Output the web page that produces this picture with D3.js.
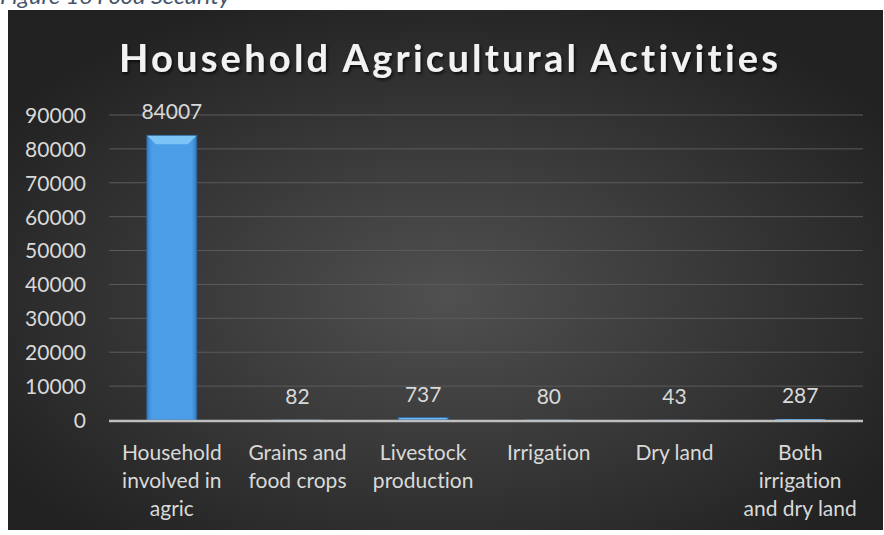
<!DOCTYPE html>
<html>
<head>
<meta charset="utf-8">
<script src="https://cdn.jsdelivr.net/npm/d3@7"></script>
<style>
  html, body { margin: 0; padding: 0; background: #ffffff; }
  svg { display: block; }
  text { font-variant-ligatures: none; font-feature-settings: "liga" 0, "clig" 0; }
</style>
</head>
<body>
<svg id="chart" width="884" height="535"></svg>
<script>
const captionText = "Figure 16 Food Security";
const titleText = "Household Agricultural Activities";
const categories = [
  ["Household", "involved in", "agric"],
  ["Grains and", "food crops"],
  ["Livestock", "production"],
  ["Irrigation"],
  ["Dry land"],
  ["Both", "irrigation", "and dry land"]
];
const values = [84007, 82, 737, 80, 43, 287];
const yTicks = [0, 10000, 20000, 30000, 40000, 50000, 60000, 70000, 80000, 90000];

const svg = d3.select("#chart");
const font = "Lato, 'Open Sans', sans-serif";

const defs = svg.append("defs");
const bg = defs.append("radialGradient").attr("id", "bg")
  .attr("cx", "50%").attr("cy", "55%").attr("r", "62%");
bg.append("stop").attr("offset", "0%").attr("stop-color", "#505050");
bg.append("stop").attr("offset", "100%").attr("stop-color", "#212121");

const barGrad = defs.append("linearGradient").attr("id", "barGrad")
  .attr("x1", "0").attr("x2", "1").attr("y1", "0").attr("y2", "0");
barGrad.append("stop").attr("offset", "0%").attr("stop-color", "#3580c8");
barGrad.append("stop").attr("offset", "10%").attr("stop-color", "#4a9de6");
barGrad.append("stop").attr("offset", "90%").attr("stop-color", "#4a9de6");
barGrad.append("stop").attr("offset", "100%").attr("stop-color", "#3278bd");

const shadow = defs.append("filter").attr("id", "tshadow")
  .attr("x", "-5%").attr("y", "-20%").attr("width", "110%").attr("height", "150%");
shadow.append("feDropShadow").attr("dx", 1.5).attr("dy", 2).attr("stdDeviation", 1.5)
  .attr("flood-color", "#000").attr("flood-opacity", 0.7);

// caption (cut off at top, as in the reference)
svg.append("text")
  .attr("x", 0).attr("y", 4)
  .attr("font-family", font).attr("font-style", "italic")
  .attr("font-size", 21).attr("fill", "#44546a")
  .attr("textLength", 230).attr("lengthAdjust", "spacingAndGlyphs")
  .text(captionText);

// chart background
svg.append("rect")
  .attr("x", 8).attr("y", 10).attr("width", 875).attr("height", 520)
  .attr("fill", "url(#bg)");

// title
svg.append("text")
  .attr("x", 119).attr("y", 72)
  .attr("font-family", font).attr("font-weight", "bold")
  .attr("font-size", 38).attr("fill", "#f2f2f2")
  .attr("textLength", 659).attr("lengthAdjust", "spacing")
  .attr("filter", "url(#tshadow)")
  .text(titleText);

const x = d3.scaleBand().domain(d3.range(categories.length)).range([109, 863]).paddingInner(0).paddingOuter(0);
const y = d3.scaleLinear().domain([0, 90000]).range([420, 115]);

// gridlines
svg.append("g").selectAll("line").data(yTicks.filter(d => d > 0)).join("line")
  .attr("x1", 109).attr("x2", 863)
  .attr("y1", d => y(d)).attr("y2", d => y(d))
  .attr("stroke", "#5c5c5c").attr("stroke-width", 1);

// y-axis labels
const yAxis = d3.axisLeft(y).tickValues(yTicks).tickSize(0).tickPadding(0).tickFormat(d3.format("d"));
const yg = svg.append("g").attr("transform", "translate(86,0)").call(yAxis);
yg.select(".domain").remove();
yg.selectAll("text")
  .attr("font-family", font).attr("font-size", 21).attr("fill", "#d9d9d9")
  .attr("dy", "0.35em");

// bars
const bw = 50;
const bars = svg.append("g");
values.forEach((v, i) => {
  const cx = x(i) + x.bandwidth() / 2;
  const x0 = cx - bw / 2;
  const top = y(v);
  const h = y(0) - top;
  bars.append("rect")
    .attr("x", x0).attr("y", top).attr("width", bw).attr("height", h)
    .attr("fill", "url(#barGrad)");
  const bev = Math.min(9, h / 2);
  if (bev > 1) {
    bars.append("path")
      .attr("d", `M${x0},${top} L${x0 + bw},${top} L${x0 + bw - bev},${top + bev} L${x0 + bev},${top + bev} Z`)
      .attr("fill", "#7cc4f5");
    bars.append("rect")
      .attr("x", x0).attr("y", top).attr("width", bw).attr("height", h)
      .attr("fill", "none").attr("stroke", "#2a5f95").attr("stroke-width", 0.8);
  }
  // data label
  svg.append("text")
    .attr("x", cx).attr("y", top - 16)
    .attr("text-anchor", "middle")
    .attr("font-family", font).attr("font-size", 21).attr("fill", "#d9d9d9")
    .text(v);
});

// x axis line
svg.append("line")
  .attr("x1", 109).attr("x2", 863).attr("y1", y(0) + 1).attr("y2", y(0) + 1)
  .attr("stroke", "#bfbfbf").attr("stroke-width", 2.5);

// category labels
categories.forEach((lines, i) => {
  const cx = x(i) + x.bandwidth() / 2;
  const t = svg.append("text")
    .attr("text-anchor", "middle")
    .attr("font-family", font).attr("font-size", 21).attr("fill", "#d9d9d9");
  lines.forEach((ln, j) => {
    t.append("tspan").attr("x", cx).attr("y", 460 + j * 28).text(ln);
  });
});
</script>
</body>
</html>
